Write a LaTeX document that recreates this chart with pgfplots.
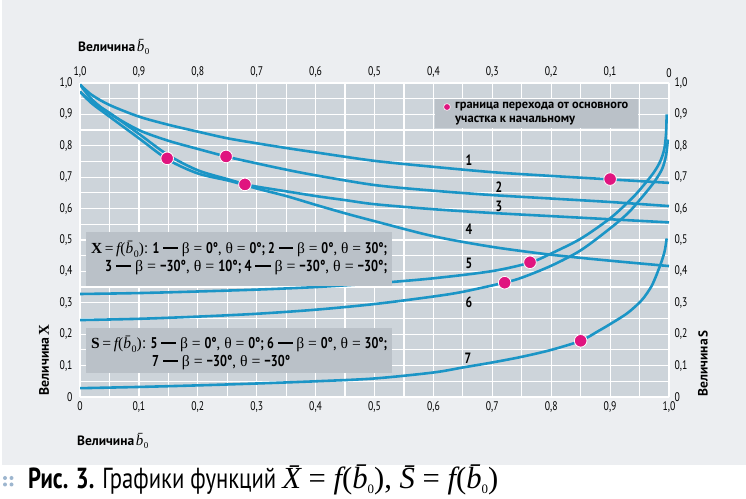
\documentclass[border=0pt]{standalone}
\usepackage{pgfplots}
\pgfplotsset{compat=1.18}
\usepackage{graphicx}
\usepackage{fontspec}
\setmainfont{PT Sans}
\newfontfamily\cond[FakeStretch=0.78]{PT Sans}
\newfontfamily\ser{Liberation Serif}
\definecolor{outerbg}{HTML}{ECEEF1}
\definecolor{plotbg}{HTML}{CDD4DA}
\definecolor{boxbg}{HTML}{BAC1C8}
\definecolor{curve}{HTML}{1B95C6}
\definecolor{mk}{HTML}{E0147F}
\definecolor{dots}{HTML}{9DB6CF}
\newcommand{\tl}{\cond\fontsize{12.5}{12.5}\selectfont}
\newcommand{\bl}{\cond\bfseries\fontsize{15}{15}\selectfont}
\newcommand{\bz}{{\ser\itshape b̄}\kern0.5pt\raisebox{-0.25em}{\ser\small 0}}
\newcommand{\fb}{{\ser\itshape f}{\ser(}\bz{\ser)}}
\newcommand{\dsh}{\hspace{0.25em}\rule[0.3em]{0.95em}{0.13em}\hspace{0.25em}}
\begin{document}
\begin{tikzpicture}[x=1bp,y=1bp]
\path[use as bounding box] (0,0) rectangle (746,499);
\fill[white] (0,0) rectangle (746,499);
\fill[outerbg] (2,34) rectangle (746,499);
\begin{axis}[
  at={(80bp,102bp)}, anchor=south west, scale only axis,
  width=589bp, height=314bp,
  xmin=0, xmax=1, ymin=0, ymax=1,
  axis background/.style={fill=plotbg},
  axis line style={draw=none},
  major tick length=0, minor tick length=0,
  xtick={0,0.1,0.2,0.3,0.4,0.5,0.6,0.7,0.8,0.9,1},
  ytick={0,0.1,0.2,0.3,0.4,0.5,0.6,0.7,0.8,0.9,1},
  minor xtick={0.05,0.15,0.25,0.35,0.45,0.55,0.65,0.75,0.85,0.95},
  minor ytick={0.05,0.15,0.25,0.35,0.45,0.55,0.65,0.75,0.85,0.95},
  xticklabels={0,{0,1},{0,2},{0,3},{0,4},{0,5},{0,6},{0,7},{0,8},{0,9},{1,0}},
  yticklabels={0,{0,1},{0,2},{0,3},{0,4},{0,5},{0,6},{0,7},{0,8},{0,9},{1,0}},
  grid=both,
  major grid style={draw=white, line width=1.2pt},
  minor grid style={draw=white, line width=1.2pt},
  tick label style={font=\tl},
  xticklabel style={yshift=-1bp},
  yticklabel style={xshift=-4bp},
]
\addplot[curve, line width=2.6pt, smooth] coordinates {(0,0.995)(0.02,0.962)(0.05,0.93)(0.1,0.893)(0.15,0.867)(0.2,0.845)(0.25,0.824)(0.3,0.808)(0.35,0.793)(0.4,0.779)(0.5,0.752)(0.6,0.733)(0.7,0.716)(0.8,0.704)(0.9,0.693)(1.0,0.682)};
\addplot[curve, line width=2.6pt, smooth] coordinates {(0,0.995)(0.02,0.948)(0.05,0.903)(0.1,0.850)(0.15,0.816)(0.2,0.790)(0.25,0.765)(0.3,0.744)(0.35,0.724)(0.4,0.706)(0.5,0.675)(0.6,0.657)(0.7,0.643)(0.8,0.632)(0.9,0.621)(1.0,0.608)};
\addplot[curve, line width=2.6pt, smooth] coordinates {(0,0.972)(0.02,0.94)(0.05,0.905)(0.1,0.838)(0.15,0.770)(0.2,0.722)(0.25,0.694)(0.28,0.678)(0.3,0.670)(0.35,0.655)(0.4,0.640)(0.45,0.627)(0.5,0.614)(0.6,0.598)(0.7,0.586)(0.8,0.576)(0.9,0.566)(1.0,0.556)};
\addplot[curve, line width=2.6pt, smooth] coordinates {(0,0.972)(0.02,0.935)(0.05,0.893)(0.1,0.824)(0.15,0.755)(0.2,0.712)(0.25,0.690)(0.28,0.675)(0.3,0.664)(0.35,0.640)(0.4,0.612)(0.45,0.585)(0.5,0.560)(0.6,0.512)(0.7,0.478)(0.8,0.453)(0.9,0.434)(1.0,0.417)};
\addplot[curve, line width=2.6pt, smooth] coordinates {(0,0.328)(0.1,0.331)(0.2,0.336)(0.3,0.342)(0.4,0.350)(0.5,0.362)(0.6,0.378)(0.7,0.401)(0.764,0.428)(0.8,0.457)(0.85,0.504)(0.9,0.569)(0.934,0.627)(0.95,0.659)(0.973,0.712)(0.985,0.75)(0.992,0.79)(0.995,0.84)(0.996,0.9)};
\addplot[curve, line width=2.6pt, smooth] coordinates {(0,0.245)(0.1,0.249)(0.2,0.256)(0.3,0.265)(0.4,0.278)(0.5,0.296)(0.6,0.320)(0.65,0.335)(0.72,0.364)(0.75,0.380)(0.8,0.418)(0.85,0.467)(0.9,0.537)(0.93,0.585)(0.95,0.627)(0.973,0.68)(0.988,0.725)(0.995,0.77)(0.998,0.82)};
\addplot[curve, line width=2.6pt, smooth] coordinates {(0,0.028)(0.1,0.032)(0.2,0.037)(0.3,0.043)(0.4,0.050)(0.5,0.059)(0.6,0.078)(0.65,0.094)(0.7,0.110)(0.75,0.128)(0.8,0.150)(0.85,0.179)(0.88,0.21)(0.9,0.232)(0.93,0.268)(0.954,0.309)(0.97,0.352)(0.979,0.390)(0.988,0.435)(0.993,0.468)(0.996,0.505)};
\addplot[only marks, mark=*, mark size=6.3bp, mark options={fill=mk, draw=white, line width=0.8pt}] coordinates {(0.148,0.760)(0.248,0.766)(0.280,0.677)(0.900,0.694)(0.764,0.429)(0.721,0.364)(0.850,0.179)};
\end{axis}
\begin{axis}[
  at={(80bp,102bp)}, anchor=south west, scale only axis,
  width=589bp, height=314bp,
  xmin=0, xmax=1, ymin=0, ymax=1,
  axis x line*=top, axis y line*=right,
  axis line style={draw=none,-},
  major tick length=0,
  xtick={0,0.1,0.2,0.3,0.4,0.5,0.6,0.7,0.8,0.9,1},
  ytick={0,0.1,0.2,0.3,0.4,0.5,0.6,0.7,0.8,0.9,1},
  xticklabels={{1,0},{0,9},{0,8},{0,7},{0,6},{0,5},{0,4},{0,3},{0,2},{0,1},0},
  yticklabels={0,{0,1},{0,2},{0,3},{0,4},{0,5},{0,6},{0,7},{0,8},{0,9},{1,0}},
  tick label style={font=\tl},
  xticklabel style={yshift=2bp},
  yticklabel style={xshift=2bp},
]
\end{axis}
% boxes
\fill[boxbg] (86,213) rectangle (392,267);
\fill[boxbg] (86,126) rectangle (392,171);
\fill[boxbg] (435,371) rectangle (638,400);
\node[anchor=west, inner sep=0] at (91,250) {\resizebox{296bp}{!}{\fontsize{14}{14}\selectfont{\ser\bfseries X}\,{\ser =}\,\fb: {\cond\bfseries 1\dsh}{\ser β = }{\cond\bfseries 0°}, {\ser θ = }{\cond\bfseries 0°; 2\dsh}{\ser β = }{\cond\bfseries 0°}, {\ser θ = }{\cond\bfseries 30°;}}};
\node[anchor=west, inner sep=0] at (105,231) {\resizebox{282bp}{!}{\fontsize{14}{14}\selectfont{\cond\bfseries 3\dsh}{\ser β = }{\cond\bfseries −30°}, {\ser θ = }{\cond\bfseries 10°; 4\dsh}{\ser β = }{\cond\bfseries −30°}, {\ser θ = }{\cond\bfseries −30°;}}};
\node[anchor=west, inner sep=0] at (91,155) {\resizebox{296bp}{!}{\fontsize{14}{14}\selectfont{\ser\bfseries S}\,{\ser =}\,\fb: {\cond\bfseries 5\dsh}{\ser β = }{\cond\bfseries 0°}, {\ser θ = }{\cond\bfseries 0°; 6\dsh}{\ser β = }{\cond\bfseries 0°}, {\ser θ = }{\cond\bfseries 30°;}}};
\node[anchor=west, inner sep=0] at (152,136) {\resizebox{138bp}{!}{\fontsize{14}{14}\selectfont{\cond\bfseries 7\dsh}{\ser β = }{\cond\bfseries −30°}, {\ser θ = }{\cond\bfseries −30°}}};
% legend
\fill[mk, draw=white, line width=0.6pt] (447,392) circle (3.4);
\node[anchor=west, inner sep=0] at (455,392.5) {\resizebox{173bp}{!}{\bfseries\fontsize{12}{12}\selectfont граница перехода от основного}};
\node[anchor=west, inner sep=0] at (455,378.5) {\resizebox{120bp}{!}{\bfseries\fontsize{12}{12}\selectfont участка к начальному}};
% curve numbers
\node[font=\bl] at (469,339) {1};
\node[font=\bl] at (499,312) {2};
\node[font=\bl] at (499,293) {3};
\node[font=\bl] at (469,270) {4};
\node[font=\bl] at (469,236) {5};
\node[font=\bl] at (469,197) {6};
\node[font=\bl] at (468,141) {7};
% axis titles
\node[anchor=west, inner sep=0] at (78,452) {\resizebox{57bp}{!}{\bfseries\fontsize{13}{13}\selectfont Величина}\,\fontsize{15}{15}\selectfont\bz};
\node[anchor=west, inner sep=0] at (77,58) {\resizebox{57bp}{!}{\bfseries\fontsize{13}{13}\selectfont Величина}\,\fontsize{15}{15}\selectfont\bz};
\node[rotate=90, inner sep=0] at (44,139) {\resizebox{58bp}{!}{\bfseries\fontsize{13}{13}\selectfont Величина}\,{\ser\bfseries\fontsize{15}{15}\selectfont X}};
\node[rotate=90, inner sep=0] at (703,135.5) {\resizebox{57bp}{!}{\bfseries\fontsize{13}{13}\selectfont Величина}\,{\bfseries\fontsize{13}{13}\selectfont S}};
% caption
\foreach \a/\b in {5/21, 11.5/21, 5/14.5, 11.5/14.5} \fill[dots] (\a,\b) circle (2);
\node[anchor=west, inner sep=0] at (28,19) {\resizebox{470bp}{!}{\fontsize{18}{18}\selectfont\cond{\bfseries Рис. 3.} Графики функций {\ser\fontsize{19}{19}\selectfont\itshape X̄ {\upshape =} f{\upshape (}b̄\raisebox{-0.15em}{\upshape\footnotesize 0}{\upshape ),} S̄ {\upshape =} f{\upshape (}b̄\raisebox{-0.15em}{\upshape\footnotesize 0}{\upshape )}}}};
\end{tikzpicture}
\end{document}
